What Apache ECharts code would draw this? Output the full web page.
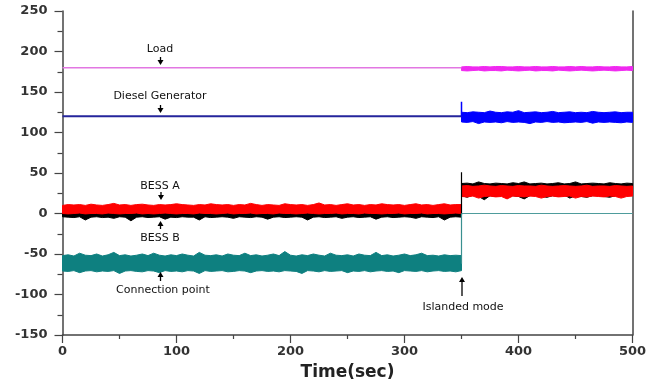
<!DOCTYPE html>
<html><head><meta charset="utf-8">
<script src="https://cdn.jsdelivr.net/npm/echarts@6/dist/echarts.min.js"></script>
<style>html,body{margin:0;padding:0;background:#fff}#c{width:659px;height:385px}</style>
</head><body><div id="c"></div><script>
// ---- axes ----
const xRange = [0, 500];
const yRange = [-150, 250];
const switchTime = 350;   // islanded mode starts

// ---- grid-connected segment (0..350 s), envelopes of noisy signals ----
const bessAPreHi = [10,11,10.5,11,10,11.5,10.5,10,11,12.5,10.5,11,10,11,11.5,10.5,10,11,10.5,11,12,11,10.5,10,11,10.5,12,11,10.5,11,10,11,10.5,12.5,11,10,11,10.5,10,12,11,10.5,11,10,11,13,10.5,11,10,11,12,10.5,11,10,11,10.5,12,11,10.5,11,10,11,12,10.5,11,10,11,12,10.5,11,11];
const bessAPreLo = [0,-0.5,0,0.5,-0.5,0,0,-0.5,0.5,0,-0.5,0,0,0.5,-0.5,0,-0.5,0,0.5,0,-0.5,0,0,-0.5,0.5,0,0,-0.5,0,0.5,-0.5,0,0,0.5,-0.5,0,0,-0.5,0.5,0,0,-0.5,0,0.5,0,-0.5,0,0,0.5,-0.5,0,0,-0.5,0.5,0,0,-0.5,0,0,0.5,-0.5,0,0,0.5,-0.5,0,0,-0.5,0,0.5,0];
const bessBPreHi = [3,2,4,3,2,3,4,2,3,3,2,4,3,2,3,4,3,2,3,4,2,3,3,4,2,3,4,3,2,3,3,4,2,3,2,4,3,3,2,4,3,2,3,4,3,2,3,3,4,2,3,4,3,2,3,3,4,2,3,3,2,4,3,2,3,4,3,2,3,3,3];
const bessBPreLo = [-4,-4.5,-5,-4,-8,-4.5,-4,-5,-4.5,-6,-4,-4.5,-9,-4.5,-4,-5,-4.5,-4,-7,-4.5,-5,-4,-4.5,-4.5,-8,-4,-5,-4.5,-4,-4.5,-6,-4,-4.5,-5,-4,-4.5,-7,-4.5,-4,-5,-4.5,-4,-4.5,-8,-4.5,-4,-5,-4.5,-4,-6,-4.5,-4,-5,-4.5,-4,-7,-4.5,-4,-5,-4.5,-4,-4.5,-6,-4,-4.5,-5,-4,-8,-4.5,-4,-4.5];
const connPreHi = [-52,-51,-52.5,-49,-51.5,-52,-50,-52.5,-51,-48,-52,-51,-52.5,-51.5,-50,-52,-49,-51.5,-52.5,-51,-52,-50,-51.5,-52.5,-48,-51.5,-52,-51,-52.5,-50,-51.5,-52,-49,-52,-51,-52.5,-51.5,-50,-52,-47,-51.5,-52.5,-51,-52,-50,-51.5,-52.5,-49,-51.5,-52,-51,-52.5,-50,-51.5,-52,-48,-52,-51,-52.5,-51.5,-50,-52,-51,-49,-52,-51.5,-52.5,-51,-52,-51.5,-52];
const connPreLo = [-71,-71.5,-70.5,-73,-71,-70.5,-72,-71,-71.5,-70.5,-74,-71,-70.5,-71.5,-72,-70.5,-71,-73,-70.5,-71.5,-71,-72,-70.5,-71,-74,-70.5,-71.5,-71,-70.5,-72,-71.5,-70.5,-71,-73,-71,-70.5,-71.5,-71,-72,-70.5,-71,-71.5,-74,-70.5,-71,-72,-70.5,-71.5,-71,-70.5,-73,-71,-71.5,-70.5,-72,-71,-70.5,-71.5,-71,-73,-70.5,-71,-71.5,-70.5,-72,-71,-70.5,-71.5,-71,-72,-70.5];
const loadPre = [180, 180];
const dieselPre = [120, 120];

// ---- islanded segment (350..500 s) ----
const bessAPostHi = [34,34.5,33.5,34,35,34,33.5,34.5,34,33.5,34.5,34,34,33.5,35,34,33.5,34,34.5,34,33.5,34,35,33.5,34,34,33.5,34.5,34,33.5,34];
const bessAPostLo = [21,20.5,21.5,19,21,21.5,20.5,21,18,21.5,21,20.5,21.5,21,19,21,21.5,20.5,21,21.5,19,21,20.5,21.5,21,20.5,21.5,21,19,21,21.5];
const bessBPostHi = [37,37.5,36.5,39,37,36.5,37.5,37,36.5,38,37,39,36.5,37,37.5,36.5,37,38,36.5,37,39,36.5,37,37.5,37,36.5,38,37,36.5,37.5,37];
const bessBPostLo = [22,20,23,21,17,22,21,23,20,22,21,18,22,23,21,20,22,21,23,19,22,21,20,22,23,21,20,22,21,23,22];
const dieselPostHi = [125,124.5,125.5,125,124.5,126.5,125,124.5,125.5,125,127,124.5,125,125.5,124.5,125,126,124.5,125,125.5,124.5,125,124.5,126,125,124.5,125,125.5,124.5,125,125];
const dieselPostLo = [113,112.5,113.5,111,113,112.5,113,112,113.5,112.5,113,112.5,111,113,112.5,113.5,112.5,113,112,112.5,113,112.5,113.5,111.5,113,112.5,113,112.5,112,113,112.5];
const loadPostHi = [181,181.5,181,181,181.5,181,181.5,181.5,181,181,181.5,181,181,181.5,181,181,181.5,181,181,181.5,181,181.5,181,181,181.5,181,181,181.5,181,181,181.5];
const loadPostLo = [176.5,176,176.5,177,176,176.5,176.5,176,177,176.5,176,176.5,177,176,176.5,176.5,176,177,176.5,176,176.5,177,176.5,176,176.5,177,176.5,176,176.5,177,176.5];
const connPost = [0, 0];

// ---- transients at the switching instant ----
const dieselSpike = [120, 138];
const bessBSpike = [-2, 51];
const connStep = [-62, 0];

// ---- annotations ----
const labels = ['Load', 'Diesel Generator', 'BESS A', 'BESS B', 'Connection point', 'Islanded mode'];

function band(name, t0, t1, lo, hi, color, z) {
  const n = hi.length;
  const pts = hi.map((v, i) => [t0 + i * (t1 - t0) / (n - 1), lo[i], v]);
  return {
    type: 'custom', name: name, z: z, silent: true,
    data: pts, encode: { x: 0, y: [1, 2] },
    renderItem: function (params, api) {
      if (params.dataIndex !== 0) return null;
      const poly = [];
      for (let i = 0; i < pts.length; i++) poly.push(api.coord([pts[i][0], pts[i][2]]));
      for (let i = pts.length - 1; i >= 0; i--) poly.push(api.coord([pts[i][0], pts[i][1]]));
      return { type: 'polygon', shape: { points: poly }, style: { fill: color, stroke: color, lineWidth: 1 } };
    }
  };
}
function line(name, xs, ys, color, width, z) {
  return {
    type: 'line', name: name, z: z, silent: true, showSymbol: false, symbol: 'none',
    data: xs.map((x, i) => [x, ys[i]]),
    lineStyle: { color: color, width: width }
  };
}

const series = [
  band('Connection point', 0, switchTime, connPreLo, connPreHi, '#0e8080', 2),
  band('BESS B', 0, switchTime, bessBPreLo, bessBPreHi, '#000000', 3),
  band('BESS A', 0, switchTime, bessAPreLo, bessAPreHi, '#ff0000', 4),
  band('BESS B', switchTime, 500, bessBPostLo, bessBPostHi, '#000000', 3),
  band('BESS A', switchTime, 500, bessAPostLo, bessAPostHi, '#ff0000', 4),
  band('Diesel Generator', switchTime, 500, dieselPostLo, dieselPostHi, '#0000ff', 4),
  band('Load', switchTime, 500, loadPostLo, loadPostHi, '#f028f0', 4),
  line('Load', [0, switchTime], loadPre, '#e277e2', 1.5, 5),
  line('Diesel Generator', [0, switchTime], dieselPre, '#25259c', 2, 5),
  line('Diesel Generator', [switchTime, switchTime], dieselSpike, '#0000ff', 1.5, 5),
  line('BESS B', [switchTime, switchTime], bessBSpike, '#000000', 1.2, 5),
  line('Connection point', [switchTime, switchTime], connStep, '#3a9090', 1.2, 5),
  line('Connection point', [switchTime, 500], connPost, '#4e9c9c', 1.2, 5)
];

const annFont = '11px "DejaVu Sans"';
function txt(s, x, y) {
  return { type: 'text', x: x, y: y, z: 100,
    style: { text: s, font: annFont, fill: '#111', textAlign: 'center', textVerticalAlign: 'middle', textBaseline: 'middle' } };
}
function arrow(x, yFrom, yTo) { // head at yTo
  const dir = yTo > yFrom ? 1 : -1;
  return [
    { type: 'line', z: 100, shape: { x1: x, y1: yFrom, x2: x, y2: yTo - dir * 3 }, style: { stroke: '#000', lineWidth: 1.3 } },
    { type: 'polygon', z: 100, shape: { points: [[x - 3, yTo - dir * 5], [x + 3, yTo - dir * 5], [x, yTo]] }, style: { fill: '#000' } }
  ];
}

const graphic = [
  txt(labels[0], 160, 49), ...arrow(160.5, 57, 65),
  txt(labels[1], 160, 96), ...arrow(160.5, 105, 113),
  txt(labels[2], 160, 186), ...arrow(161, 192, 200),
  txt(labels[3], 160, 238), ...arrow(160.5, 229, 221),
  txt(labels[4], 163, 290), ...arrow(160.5, 281, 272),
  txt(labels[5], 463, 307), ...arrow(462, 296, 277)
];

const axisLineStyle = { color: '#444', width: 1.5 };
const tickLabel = { color: '#333', fontFamily: 'DejaVu Sans', fontWeight: 'bold', fontSize: 13 };

const chart = echarts.init(document.getElementById('c'), null, { renderer: 'canvas' });
chart.setOption({
  animation: false,
  backgroundColor: '#fff',
  grid: { left: 62.5, right: 26.5, top: 11, bottom: 50, containLabel: false, outerBoundsMode: 'none' },
  xAxis: {
    type: 'value', min: xRange[0], max: xRange[1], interval: 100,
    name: 'Time(sec)', nameLocation: 'middle', nameGap: 29,
    nameTextStyle: { color: '#222', fontFamily: 'DejaVu Sans', fontWeight: 'bold', fontSize: 17 },
    axisLine: { show: true, onZero: false, lineStyle: axisLineStyle },
    axisTick: { show: true, length: 8, lineStyle: { color: '#444', width: 1.2 } },
    minorTick: { show: true, splitNumber: 2, length: 4, lineStyle: { color: '#444', width: 1.2 } },
    axisLabel: Object.assign({ margin: 10 }, tickLabel),
    splitLine: { show: false }
  },
  yAxis: [{
    type: 'value', min: yRange[0], max: yRange[1], interval: 50,
    axisLine: { show: true, onZero: false, lineStyle: axisLineStyle },
    axisTick: { show: true, length: 8, lineStyle: { color: '#444', width: 1.2 } },
    minorTick: { show: true, splitNumber: 2, length: 5, lineStyle: { color: '#444', width: 1.2 } },
    axisLabel: Object.assign({ margin: 15 }, tickLabel),
    splitLine: { show: false }
  }, {
    type: 'value', min: yRange[0], max: yRange[1], interval: 50, position: 'right',
    axisLine: { show: true, onZero: false, lineStyle: axisLineStyle },
    axisTick: { show: false }, axisLabel: { show: false }, splitLine: { show: false }
  }],
  series: series,
  graphic: graphic
});
</script></body></html>
